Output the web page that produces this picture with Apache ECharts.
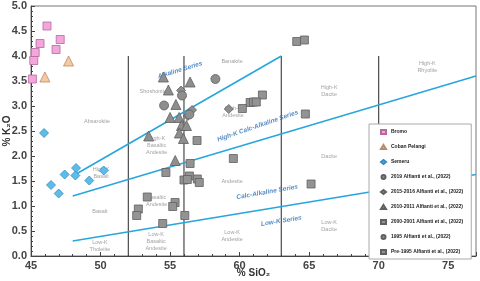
<!DOCTYPE html>
<html><head><meta charset="utf-8">
<script src="https://cdn.jsdelivr.net/npm/echarts@6/dist/echarts.min.js"></script>
<style>html,body{margin:0;padding:0;background:#fff}#c{width:480px;height:281px}</style>
</head><body><div id="c"></div>
<script>
// ---- data ----
var xTicks = [45, 50, 55, 60, 65, 70, 75];
var yTicks = [0, 0.5, 1, 1.5, 2, 2.5, 3, 3.5, 4, 4.5, 5];
var bromo = [[46.15,4.60],[47.10,4.33],[45.65,4.25],[46.80,4.13],[45.30,4.07],[45.20,3.91],[45.10,3.54]];
var coban = [[46.00,3.58],[47.70,3.90]];
var semeru = [[45.94,2.46],[46.44,1.42],[46.99,1.25],[47.42,1.63],[48.24,1.76],[48.19,1.61],[49.19,1.51],[50.23,1.71]];
var a2019 = [[58.26,3.54],[54.57,3.01],[56.39,2.83]];
var a2015 = [[55.79,3.31],[56.58,2.92],[56.27,2.80],[59.22,2.94]];
var a2010 = [[54.52,3.58],[56.44,3.48],[54.88,3.32],[55.42,3.03],[55.00,2.77],[55.65,2.77],[55.82,2.61],[56.18,2.61],[55.67,2.46],[53.46,2.40],[55.96,2.35],[55.37,1.91]];
var a2000 = [[56.94,2.31],[56.44,1.85],[54.70,1.67],[56.39,1.60],[56.00,1.52],[56.24,1.53],[56.96,1.54],[57.10,1.47],[53.36,1.18],[55.36,1.07],[55.19,0.99],[52.72,0.94],[52.60,0.81],[56.06,0.81],[54.47,0.65]];
var a1995 = [[55.86,3.21]];
var aPre1995 = [[64.11,4.29],[64.66,4.32],[61.64,3.22],[60.76,3.07],[61.00,3.08],[61.20,3.08],[60.20,2.95],[64.73,2.84],[59.55,1.95],[65.14,1.44]];
var seriesNames = ['Bromo','Coban Pelangi','Semeru','2019 Alfianti et al., (2022)','2015-2016 Alfianti et al., (2022)','2010-2011 Alfianti et al., (2022)','2000-2001 Alfianti et al., (2022)','1995 Alfianti et al., (2022)','Pre-1995 Alfianti et al., (2022)'];
// boundary lines
var alkalineLine = [[48,1.6],[63,4.0]];
var highKLine = [[48,1.2],[77,3.6]];
var lowKLine = [[48,0.3],[77,1.63]];
var verticalX = [52, 56, 63, 70];
var verticalTop = 4.0;
// field names [text, x, y]
var fieldLabels = [
 ['Absarokite',49.75,2.70],['Shoshonite',53.8,3.30],['Banakite',59.46,3.90],['High-K\nAndesite',59.53,2.88],
 ['High-K\nDacite',66.44,3.30],['High-K\nRhyolite',73.5,3.78],['High-K\nBasaltic\nAndesite',54.04,2.21],
 ['High-K\nBasalt',50.04,1.66],['Basalt',49.96,0.90],['Low-K\nTholeiite',49.96,0.20],['Basaltic\nAndesite',54.04,1.11],
 ['Low-K\nBasaltic\nAndesite',54.0,0.29],['Andesite',59.46,1.50],['Low-K\nAndesite',59.46,0.40],['Dacite',66.44,2.0],['Low-K\nDacite',66.44,0.60]
];
// series names [text, x, y, angle]
var seriesLabels = [
 ['Alkaline Series',55.72,3.72,17],['High-K Calc-Alkaline Series',61.3,2.6,19],
 ['Calc-Alkaline Series',61.98,1.28,10],['Low-K Series',63.0,0.70,9]
];

var greyFill = '#8e8e8e', greyLine = '#606060';
var font = 'Arial, "Liberation Sans", sans-serif';
function sc(name, data, symbol, size, fill, stroke){
  return {name:name, type:'scatter', data:data, symbol:symbol, symbolSize:size, z:5,
    itemStyle:{color:fill, borderColor:stroke, borderWidth:0.8, opacity:1}};
}
var series = [];
verticalX.forEach(function(x){
  series.push({type:'line', data:[[x,0],[x,verticalTop]], symbol:'none', silent:true, z:2,
    lineStyle:{color:'#4a4a4a', width:1.2}});
});
[alkalineLine, highKLine, lowKLine].forEach(function(d){
  series.push({type:'line', data:d, symbol:'none', silent:true, z:3,
    lineStyle:{color:'#27a6de', width:1.6}});
});
series.push({type:'scatter', silent:true, symbolSize:0, z:4,
  data: fieldLabels.map(function(l){return {value:[l[1],l[2]], name:l[0]};}),
  label:{show:true, position:'inside', formatter:'{b}', color:'#8a8a8a', fontSize:5.5, lineHeight:7, fontFamily:font}});
series.push({type:'scatter', silent:true, symbolSize:0, z:4,
  data: seriesLabels.map(function(l){return {value:[l[1],l[2]], name:l[0], label:{rotate:l[3]}};}),
  label:{show:true, position:'inside', formatter:'{b}', color:'#2a6fb8', fontSize:6.5, fontWeight:'bold', fontStyle:'italic', fontFamily:font}});
series.push(sc(seriesNames[6], a2000, 'rect', 8, '#939393', greyLine));
series.push(sc(seriesNames[8], aPre1995, 'rect', 8, '#939393', greyLine));
series.push(sc(seriesNames[5], a2010, 'triangle', 10, greyFill, greyLine));
series.push(sc(seriesNames[4], a2015, 'diamond', 9, greyFill, greyLine));
series.push(sc(seriesNames[3], a2019, 'circle', 9, greyFill, greyLine));
series.push(sc(seriesNames[7], a1995, 'circle', 9, greyFill, greyLine));
series.push(sc(seriesNames[0], bromo, 'rect', 8, '#f3a6dc', '#b46a9e'));
series.push(sc(seriesNames[1], coban, 'triangle', 10, '#f6c9a3', '#b88a66'));
series.push(sc(seriesNames[2], semeru, 'diamond', 9, '#5cbde9', '#3a8cbf'));

var chart = echarts.init(document.getElementById('c'), null, {renderer:'canvas'});
chart.setOption({
  animation:false,
  grid:{left:31, right:4, top:6, bottom:25, show:true, borderColor:'#777', borderWidth:1, containLabel:false, outerBoundsMode:'none'},
  legend:{
    data: seriesNames, orient:'vertical', left:369, top:124, selectedMode:false,
    backgroundColor:'#fff', borderColor:'#aaa', borderWidth:1, padding:[5,8,4,11],
    itemWidth:5, itemHeight:4, itemGap:9,
    textStyle:{fontSize:5, lineHeight:5, fontWeight:'bold', color:'#222', fontFamily:font}, z:10
  },
  xAxis:{type:'value', min:45, max:77, interval:5,
    name:'% SiO\u2082', nameLocation:'middle', nameGap:12, nameMoveOverlap:false,
    nameTextStyle:{fontSize:10, fontWeight:'bold', color:'#333', fontFamily:font},
    axisLine:{lineStyle:{color:'#444', width:1}},
    axisTick:{inside:true, length:4, lineStyle:{color:'#444'}},
    minorTick:{show:true, splitNumber:5, length:2, lineStyle:{color:'#444'}},
    axisLabel:{fontSize:11, fontWeight:'bold', color:'#444', margin:4, fontFamily:font, showMaxLabel:false},
    splitLine:{show:false}},
  yAxis:{type:'value', min:0, max:5, interval:0.5,
    name:'% K\u2082O', nameLocation:'middle', nameGap:19, nameMoveOverlap:false,
    nameTextStyle:{fontSize:10, fontWeight:'bold', color:'#333', fontFamily:font},
    axisLine:{lineStyle:{color:'#444', width:1}},
    axisTick:{inside:true, length:4, lineStyle:{color:'#444'}},
    minorTick:{show:true, splitNumber:5, length:2, lineStyle:{color:'#444'}},
    axisLabel:{fontSize:11, fontWeight:'bold', color:'#444', margin:4, fontFamily:font, formatter:function(v){return v.toFixed(1);}},
    splitLine:{show:false}},
  series: series
});
</script></body></html>
